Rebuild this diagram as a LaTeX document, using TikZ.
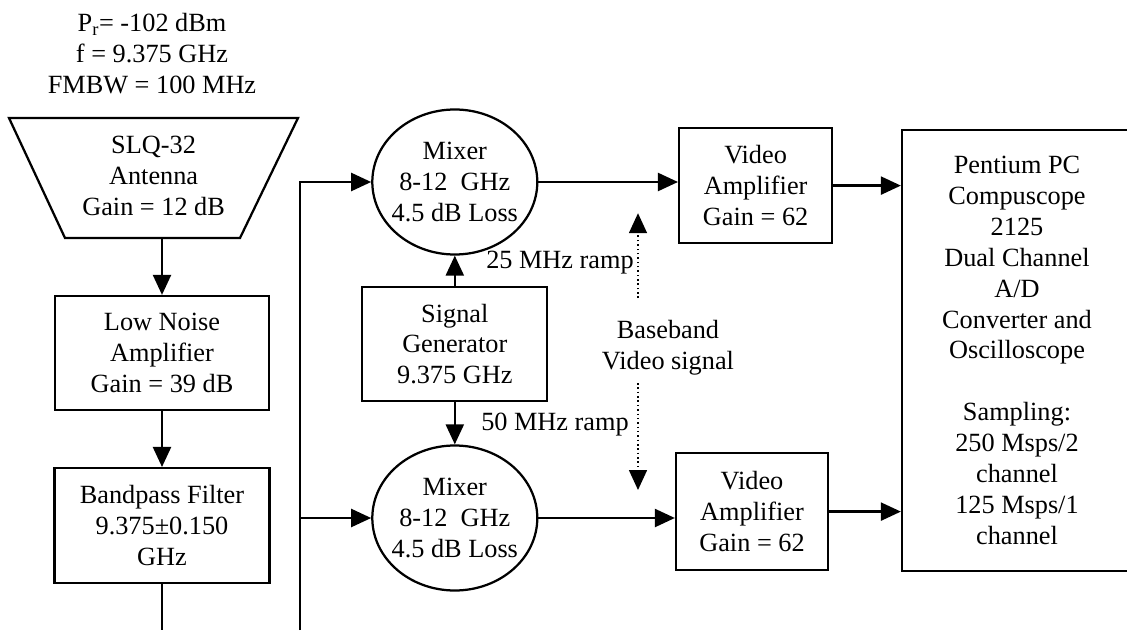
\documentclass[tikz,border=0pt]{standalone}
\usepackage{fontspec}
\setmainfont{Liberation Serif}
\usetikzlibrary{shapes.geometric,arrows.meta,positioning}

\begin{document}
\begin{tikzpicture}[font=\fontsize{18.7pt}{22pt}\selectfont]
			\tikzstyle{Block}	= [rectangle, draw, line width=1.6pt, align=center, inner sep=2pt]
			\tikzstyle{Mixer}	= [ellipse, draw, line width=1.6pt, align=center, inner xsep=-0.15cm, inner ysep=0pt, minimum width=4.125cm, minimum height=3.625cm]
			\tikzstyle{Text}	= [align=center, inner sep=1pt]
			\tikzstyle{Wire}	= [line width=1.6pt]
			\tikzstyle{Arr}		= [Wire, -{Triangle[length=0.5cm,width=0.45cm]}]
			\tikzstyle{Hint}	= [dotted, line width=1.1pt, -{Triangle[length=0.5cm,width=0.45cm]}]

			\useasboundingbox (0,0) rectangle (28.175,15.75);

			\node (hdr) at (3.8,14.4) [Text] {P\textsubscript{r}= -102 dBm\\f = 9.375 GHz\\FMBW = 100 MHz};
			\draw [Wire] (0.225,12.8) -- (7.45,12.8) -- (6.0,9.8) -- (1.625,9.8) -- cycle;
			\node (ant) at (3.84,11.35) [Text] {SLQ-32\\Antenna\\Gain = 12 dB};

			\node (lna) at (4.05,6.925) [Block, minimum width=5.35cm, minimum height=2.85cm] {Low Noise\\Amplifier\\Gain = 39 dB};
			\node (bpf) at (4.05,2.61) [Block, minimum width=5.375cm, minimum height=2.875cm] {Bandpass Filter\\9.375±0.150\\GHz};

			\node (mix1) at (11.37,11.2) [Mixer] {Mixer\\8-12\ \ GHz\\4.5 dB Loss};
			\node (sg) at (11.37,7.15) [Block, minimum width=4.625cm, minimum height=2.85cm] {Signal\\Generator\\9.375 GHz};
			\node (mix2) at (11.37,2.8) [Mixer] {Mixer\\8-12\ \ GHz\\4.5 dB Loss};
			\node (r25) at (14.0,9.175) [Text] {25 MHz ramp};
			\node (r50) at (13.875,5.125) [Text] {50 MHz ramp};

			\node (va1) at (18.89,11.11) [Block, minimum width=3.825cm, minimum height=2.875cm] {Video\\Amplifier\\Gain = 62};
			\node (va2) at (18.8,2.96) [Block, minimum width=3.8cm, minimum height=2.925cm] {Video\\Amplifier\\Gain = 62};
			\node (bb) at (16.7,7.05) [Text] {Baseband\\Video signal};

			\node (pc) at (25.425,6.99) [Block, minimum width=5.75cm, minimum height=11.025cm] {Pentium PC\\Compuscope\\2125\\Dual Channel\\A/D\\Converter and\\Oscilloscope\\[0.775cm]Sampling:\\250 Msps/2\\channel\\125 Msps/1\\channel};

			\coordinate (antb) at (lna.north |- 0,9.8);
			\coordinate (bpfo) at (bpf.south |- 0,0);
			\coordinate (sbot) at (7.5,0);
			\coordinate (up0) at (15.95,8.3);
			\coordinate (up1) at (15.95,10.42);
			\coordinate (dn0) at (15.95,6.175);
			\coordinate (dn1) at (15.95,3.5);

			\draw [Arr] (antb) to (lna.north);
			\draw [Arr] (lna) to (bpf);
			\draw [Wire] (bpf.south) to (bpfo);
			\draw [Arr] (sbot) |- (mix1);
			\draw [Arr] (sbot |- mix2) to (mix2);
			\draw [Arr] (sg) to (mix1);
			\draw [Arr] (sg) to (mix2);
			\draw [Arr] (mix1.east) to (mix1.east -| va1.west);
			\draw [Arr] (mix2.east) to (mix2.east -| va2.west);
			\draw [Arr] (va1.east) to (va1.east -| pc.west);
			\draw [Arr] (va2.east) to (va2.east -| pc.west);
			\draw [Hint] (up0) to (up1);
			\draw [Hint] (dn0) to (dn1);
		\end{tikzpicture}
\end{document}
